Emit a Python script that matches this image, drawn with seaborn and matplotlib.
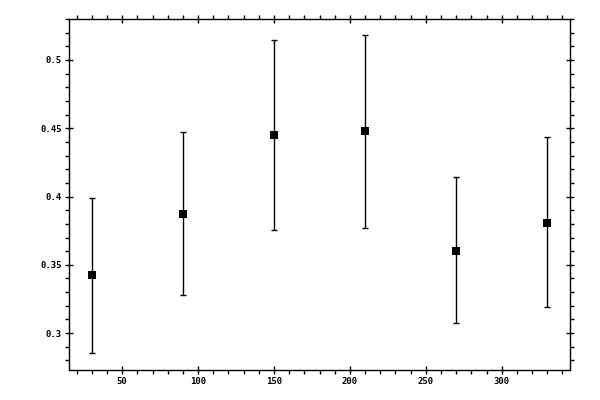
import pandas as pd
import matplotlib.pyplot as plt
import seaborn as sns
from matplotlib.ticker import MultipleLocator

# values
angle = [30, 90, 150, 210, 270, 330]
mean_val = [0.3425, 0.3874, 0.4449, 0.4478, 0.3603, 0.3808]
upper = [0.3990, 0.4475, 0.5147, 0.5185, 0.4144, 0.4436]
lower = [0.2853, 0.3280, 0.3756, 0.3770, 0.3073, 0.3190]

df = pd.DataFrame({"angle": angle, "mean": mean_val, "upper": upper, "lower": lower})

sns.set_style("ticks")
plt.rcParams["font.family"] = ["DejaVu Sans Mono"]

fig = plt.figure(figsize=(6, 4), dpi=100)
ax = fig.add_axes([0.115, 0.075, 0.835, 0.8775])

ax.errorbar(df["angle"], df["mean"],
            yerr=[df["mean"] - df["lower"], df["upper"] - df["mean"]],
            fmt="none", ecolor="black", elinewidth=1, capsize=2.5, capthick=1)
sns.scatterplot(data=df, x="angle", y="mean", marker="s", s=32, color="black",
                edgecolor="black", linewidth=0, ax=ax, zorder=3)

ax.set_xlim(15, 345)
ax.set_ylim(0.273, 0.530)
ax.xaxis.set_major_locator(MultipleLocator(50))
ax.xaxis.set_minor_locator(MultipleLocator(10))
ax.yaxis.set_major_locator(MultipleLocator(0.05))
ax.yaxis.set_minor_locator(MultipleLocator(0.01))
ax.set_yticks([0.3, 0.35, 0.4, 0.45, 0.5])
ax.set_yticklabels(["0.3", "0.35", "0.4", "0.45", "0.5"])
ax.set_xlabel("")
ax.set_ylabel("")

for side in ax.spines.values():
    side.set_linewidth(1)
    side.set_color("black")
    side.set_visible(True)
ax.tick_params(which="major", direction="inout", length=6, width=1, color="black",
               top=True, right=True, labelsize=6.5, labelcolor="black", pad=2)
ax.tick_params(which="minor", direction="out", length=2.6, width=1, color="black",
               top=True, right=True)
for lab in ax.get_xticklabels() + ax.get_yticklabels():
    lab.set_fontweight("bold")

fig.savefig("out.png", dpi=100)
